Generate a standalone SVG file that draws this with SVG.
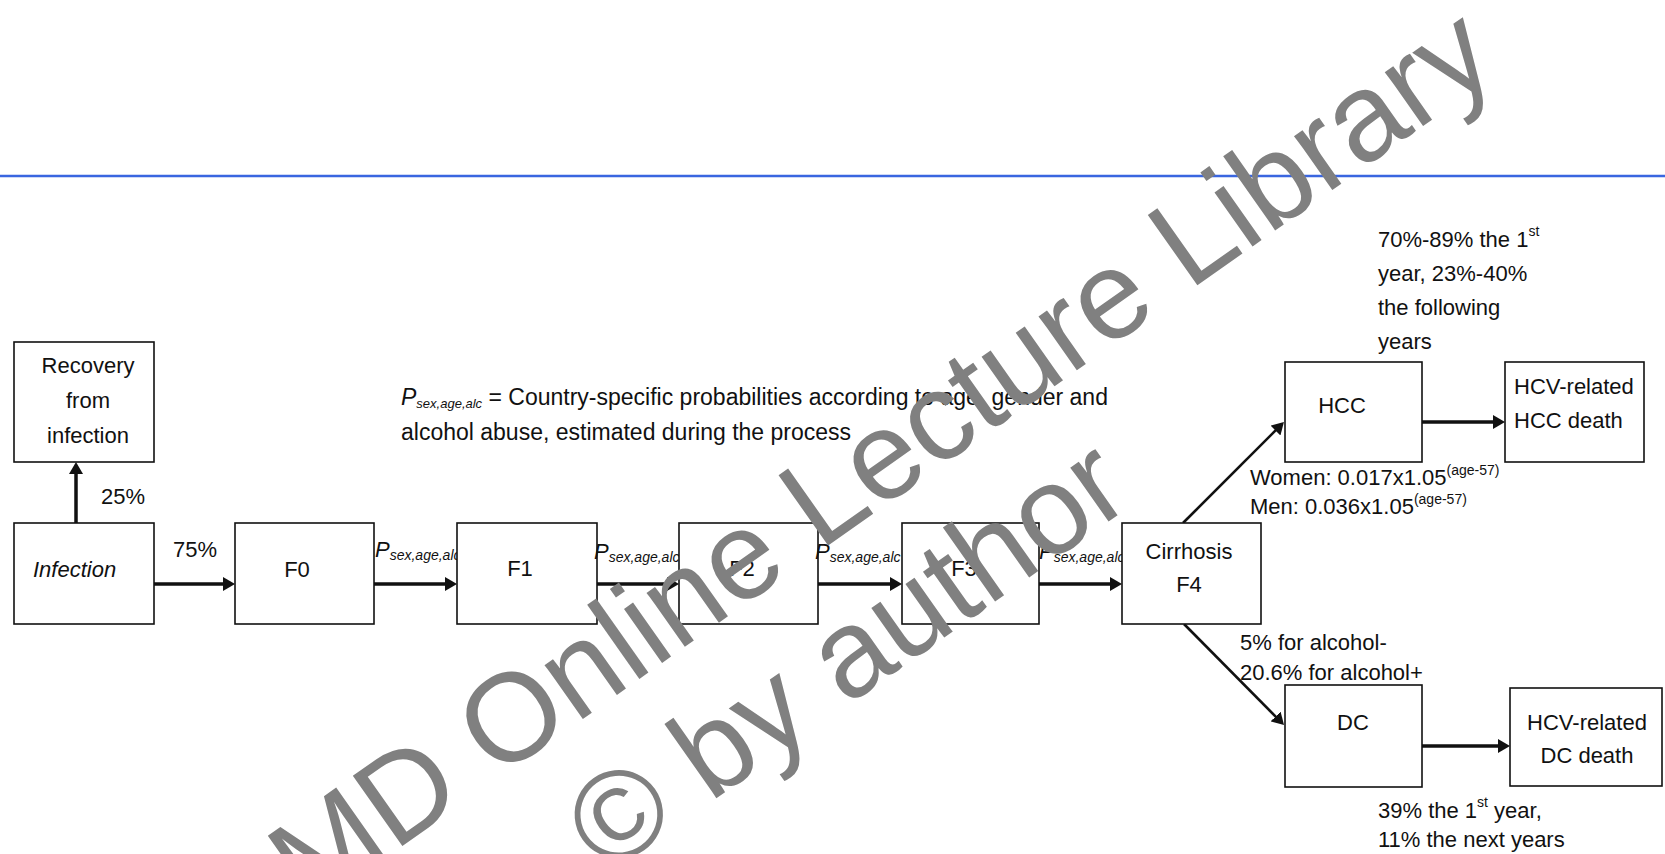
<svg xmlns="http://www.w3.org/2000/svg" width="1665" height="854" viewBox="0 0 1665 854">
<defs>
<style>
.box{fill:#fff;stroke:#111;stroke-width:1.6}
.t{font-family:"Liberation Sans",Arial,sans-serif;font-size:22px;fill:#111}
.n{font-size:23px}
.c{text-anchor:middle}
.it{font-style:italic}
.conn{stroke:#111;stroke-width:3.5;fill:none}
.diag{stroke:#111;stroke-width:2.6;fill:none}
.wm{font-family:"Liberation Sans",Arial,sans-serif;font-size:125px;fill:#808080}
</style>
<marker id="ah" viewBox="0 0 12 14" markerWidth="12" markerHeight="14" refX="4" refY="7" orient="auto" markerUnits="userSpaceOnUse"><path d="M0,0 L12,7 L0,14 z" fill="#111"/></marker>
<clipPath id="cl1"><rect x="360" y="530" width="97" height="45"/></clipPath>
<clipPath id="cl2"><rect x="580" y="530" width="99" height="45"/></clipPath>
<clipPath id="cl3"><rect x="800" y="530" width="102" height="45"/></clipPath>
<clipPath id="cl4"><rect x="1025" y="530" width="97" height="45"/></clipPath>
</defs>
<rect width="1665" height="854" fill="#fff"/>
<line x1="0" y1="176" x2="1665" y2="176" stroke="#3a66e0" stroke-width="2.5"/>

<g id="connectors">
<path class="conn" d="M76,523 V470" marker-end="url(#ah)"/>
<path class="conn" d="M154,584 H227" marker-end="url(#ah)"/>
<path class="conn" d="M374,584 H449" marker-end="url(#ah)"/>
<path class="conn" d="M597,584 H671" marker-end="url(#ah)"/>
<path class="conn" d="M818,584 H894" marker-end="url(#ah)"/>
<path class="conn" d="M1039,584 H1114" marker-end="url(#ah)"/>
<path class="diag" d="M1183,523 L1278.3,427.7" marker-end="url(#ah)"/>
<path class="diag" d="M1184,624 L1278.4,719.3" marker-end="url(#ah)"/>
<path class="conn" d="M1422,422 H1497" marker-end="url(#ah)"/>
<path class="conn" d="M1422,746 H1502" marker-end="url(#ah)"/>
</g>

<g id="note">
<text class="t n" x="401" y="405"><tspan class="it">P</tspan><tspan class="it" font-size="13" dy="3">sex,age,alc</tspan><tspan dy="-3"> = Country-specific probabilities according to age, gender and</tspan></text>
<text class="t n" x="401" y="440">alcohol abuse, estimated during the process</text>
</g>

<g id="recovery"><rect class="box" x="14" y="342" width="140" height="120"/>
<text class="t c" x="88" y="373">Recovery</text><text class="t c" x="88" y="408">from</text><text class="t c" x="88" y="443">infection</text></g>
<g id="infection"><rect class="box" x="14" y="523" width="140" height="101"/><text class="t it" x="33" y="577">Infection</text></g>
<g id="f0"><rect class="box" x="235" y="523" width="139" height="101"/><text class="t c" x="297" y="577">F0</text></g>
<g id="f1"><rect class="box" x="457" y="523" width="140" height="101"/><text class="t c" x="520" y="576">F1</text></g>
<g id="f2"><rect class="box" x="679" y="523" width="139" height="101"/><text class="t c" x="742" y="576">F2</text></g>
<g id="f3"><rect class="box" x="902" y="523" width="137" height="101"/><text class="t c" x="964" y="576">F3</text></g>
<g id="f4"><rect class="box" x="1122" y="523" width="139" height="101"/><text class="t c" x="1189" y="559">Cirrhosis</text><text class="t c" x="1189" y="592">F4</text></g>
<g id="hcc"><rect class="box" x="1285" y="362" width="137" height="100"/><text class="t c" x="1342" y="413">HCC</text></g>
<g id="hcc-death"><rect class="box" x="1505" y="362" width="139" height="100"/><text class="t" x="1514" y="394">HCV-related</text><text class="t" x="1514" y="428">HCC death</text></g>
<g id="dc"><rect class="box" x="1285" y="685" width="137" height="102"/><text class="t c" x="1353" y="730">DC</text></g>
<g id="dc-death"><rect class="box" x="1510" y="688" width="152" height="98"/><text class="t c" x="1587" y="730">HCV-related</text><text class="t c" x="1587" y="763">DC death</text></g>

<g id="edge-labels">
<text class="t" x="101" y="504">25%</text>
<text class="t" x="173" y="557">75%</text>
<text class="t" x="375" y="557" clip-path="url(#cl1)"><tspan class="it">P</tspan><tspan class="it" font-size="14" dy="3">sex,age,alc</tspan></text>
<text class="t" x="594" y="559" clip-path="url(#cl2)"><tspan class="it">P</tspan><tspan class="it" font-size="14" dy="3">sex,age,alc</tspan></text>
<text class="t" x="815" y="559" clip-path="url(#cl3)"><tspan class="it">P</tspan><tspan class="it" font-size="14" dy="3">sex,age,alc</tspan></text>
<text class="t" x="1039" y="559" clip-path="url(#cl4)"><tspan class="it">P</tspan><tspan class="it" font-size="14" dy="3">sex,age,alc</tspan></text>
<text class="t" x="1250" y="485">Women: 0.017x1.05<tspan font-size="14" dy="-10">(age-57)</tspan></text>
<text class="t" x="1250" y="514">Men: 0.036x1.05<tspan font-size="14" dy="-10">(age-57)</tspan></text>
<text class="t" x="1240" y="650">5% for alcohol-</text>
<text class="t" x="1240" y="680">20.6% for alcohol+</text>
<text class="t" x="1378" y="247">70%-89% the 1<tspan font-size="14" dy="-11">st</tspan></text>
<text class="t" x="1378" y="281">year, 23%-40%</text>
<text class="t" x="1378" y="315">the following</text>
<text class="t" x="1378" y="349">years</text>
<text class="t" x="1378" y="818">39% the 1<tspan font-size="14" dy="-11">st</tspan><tspan dy="11"> year,</tspan></text>
<text class="t" x="1378" y="847">11% the next years</text>
</g>

<g id="watermark">
<text class="wm" transform="translate(309,912) rotate(-35.2)">MD Online Lecture Library</text>
<text class="wm" transform="translate(606,876) rotate(-35.2)">© by author</text>
</g>
</svg>
